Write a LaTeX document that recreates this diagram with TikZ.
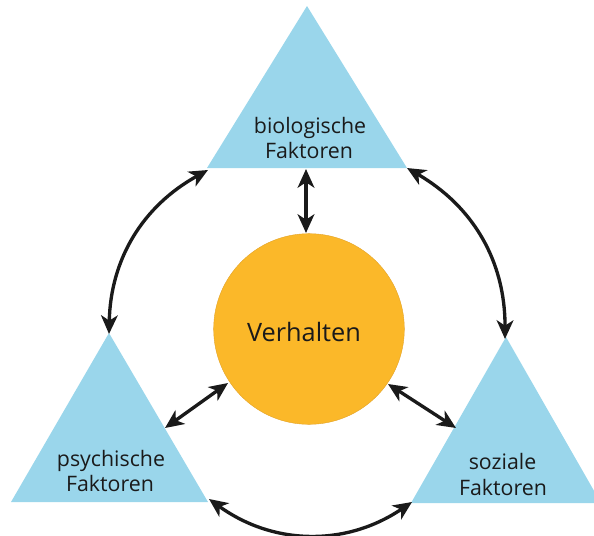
\documentclass[tikz,border=0pt]{standalone}
\usepackage{fontspec}
\setmainfont{Open Sans}
\usetikzlibrary{arrows.meta}
\definecolor{triblue}{HTML}{9AD6EB}
\definecolor{circorange}{HTML}{FBB829}
\definecolor{circedge}{HTML}{E3A226}
\definecolor{inkblack}{HTML}{1A1A1A}
\begin{document}
\begin{tikzpicture}[x=0.75pt,y=-0.75pt,
  tri/.style={fill=triblue},
  link/.style={draw=inkblack, line width=2.5pt,
    {Stealth[length=14pt,width=12.5pt,inset=4pt]}-{Stealth[length=14pt,width=12.5pt,inset=4pt]}},
  lbl/.style={anchor=base, inner sep=0pt, text=inkblack, font=\fontsize{16}{18}\selectfont},
  biglbl/.style={anchor=base, inner sep=0pt, text=inkblack, font=\fontsize{19}{23}\selectfont}]
\useasboundingbox (0,0) rectangle (594,536);
\clip (0,0) rectangle (594,536);
% triangles
\coordinate (bioTop) at (307,6);
\coordinate (bioL) at (207,168);
\coordinate (bioR) at (407,168);
\coordinate (psyTop) at (109,333);
\coordinate (psyL) at (11,502);
\coordinate (psyR) at (208,502);
\coordinate (sozTop) at (506,337);
\coordinate (sozL) at (411,503);
\coordinate (sozR) at (601,503);
\fill[tri] (bioTop) -- (bioL) -- (bioR) -- cycle;
\fill[tri] (psyTop) -- (psyL) -- (psyR) -- cycle;
\fill[tri] (sozTop) -- (sozL) -- (sozR) -- cycle;
% circle
\node (circ) [circle, fill=circorange, draw=circedge, line width=0.3pt, minimum size=143pt, inner sep=0pt] at (309,329) {};
% labels
\node (bio1) [lbl] at (310,133) {biologische};
\node (bio2) [lbl] at (309,158) {Faktoren};
\node (psy1) [lbl] at (111,466) {psychische};
\node (psy2) [lbl] at (110,491) {Faktoren};
\node (soz1) [lbl] at (502.5,469) {soziale};
\node (soz2) [lbl] at (503,495) {Faktoren};
\node (verh) [biglbl] at (304,341) {Verhalten};
% arrow end points
\coordinate (aBioB) at (306,169);
\coordinate (aCircT) at (306,233);
\coordinate (aCircL) at (228,383);
\coordinate (aPsyE) at (165,428);
\coordinate (aCircR) at (388,384);
\coordinate (aSozE) at (456,428);
\coordinate (aBioL) at (208,170);
\coordinate (aPsyT) at (109,334);
\coordinate (aBioR) at (407,168);
\coordinate (aSozT) at (505,339);
\coordinate (aPsyR) at (209,499);
\coordinate (aSozL) at (412,502);
% connectors
\draw[link] (aBioB) -- (aCircT);
\draw[link] (aCircL) -- (aPsyE);
\draw[link] (aCircR) -- (aSozE);
\draw[link] (aBioL) to[bend right=30] (aPsyT);
\draw[link] (aBioR) to[bend left=30] (aSozT);
\draw[link] (aPsyR) to[bend right=35] (aSozL);
\end{tikzpicture}
\end{document}
